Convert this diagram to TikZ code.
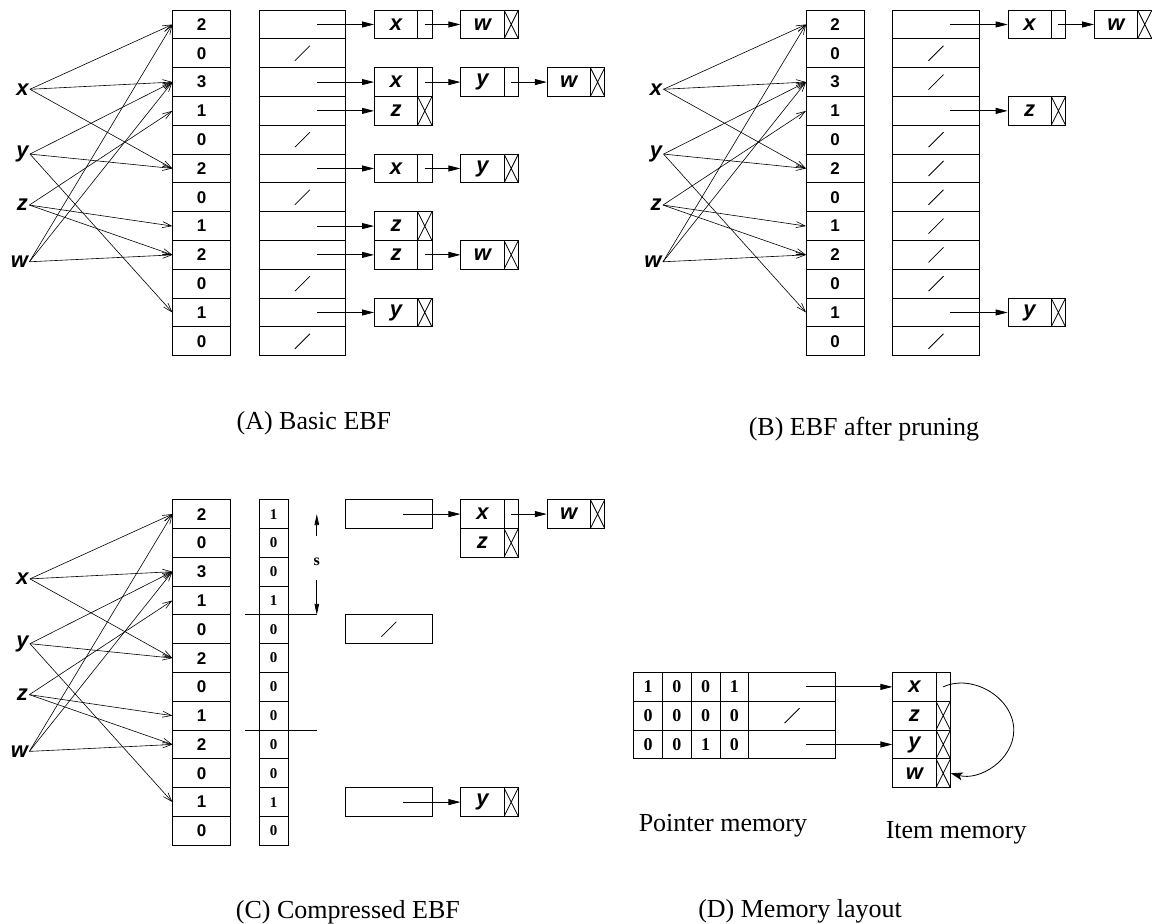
\documentclass[tikz,border=0pt]{standalone}
\usepackage{fontspec}
\setmainfont{Liberation Serif}
\setsansfont{Liberation Sans}
\usetikzlibrary{arrows.meta}
\tikzset{
  cnt/.style={rectangle, draw, minimum width=57.6pt, minimum height=28.8pt, inner sep=0pt, font=\fontsize{17}{20}\selectfont\sffamily\bfseries},
  ptr/.style={rectangle, draw, minimum width=86.4pt, minimum height=28.8pt, inner sep=0pt},
  nilptr/.style={ptr, path picture={\draw (path picture bounding box.center) +(-7.5pt,-7.5pt) -- +(7.5pt,7.5pt);}},
  bit/.style={rectangle, draw, minimum width=28.8pt, minimum height=28.8pt, inner sep=0pt, font=\fontsize{15}{18}\selectfont\rmfamily\bfseries},
  bigbit/.style={bit, font=\fontsize{18}{21}\selectfont\rmfamily\bfseries},
  item/.style={rectangle, draw, minimum width=43.2pt, minimum height=28.8pt, inner sep=0pt, font=\fontsize{22}{25}\selectfont\sffamily\bfseries\itshape},
  nxt/.style={rectangle, draw, minimum width=14.4pt, minimum height=28.8pt, inner sep=0pt},
  nilnxt/.style={nxt, path picture={\draw (path picture bounding box.south west) -- (path picture bounding box.north east) (path picture bounding box.north west) -- (path picture bounding box.south east);}},
  keylabel/.style={anchor=east, inner sep=1pt, font=\fontsize{22}{25}\selectfont\sffamily\bfseries\itshape},
  hashedge/.style={-{Straight Barb[length=9pt,width=6pt]}, line width=0.6pt},
  link/.style={-{Triangle[length=12pt,width=6pt]}},
  sarrow/.style={-{Triangle[length=11pt,width=4.5pt]}},
  caption/.style={anchor=base, font=\fontsize{26}{30}\selectfont}
}
\begin{document}
\begin{tikzpicture}[x=28.8pt, y=-28.8pt, line width=0.8pt]
  \useasboundingbox (0,-0.35) rectangle (40,31.7);

  % (A) basic EBF
  \node[keylabel] (aLx) at (1.04,2.75) {x};
  \node[keylabel] (aLy) at (1.04,5.0) {y};
  \node[keylabel] (aLz) at (1.02,6.77) {z};
  \node[keylabel] (aLw) at (1.02,8.74) {w};
  \node[cnt] (aC0) at (7,0.5) {2};
  \node[cnt] (aC1) at (7,1.5) {0};
  \node[cnt] (aC2) at (7,2.5) {3};
  \node[cnt] (aC3) at (7,3.5) {1};
  \node[cnt] (aC4) at (7,4.5) {0};
  \node[cnt] (aC5) at (7,5.5) {2};
  \node[cnt] (aC6) at (7,6.5) {0};
  \node[cnt] (aC7) at (7,7.5) {1};
  \node[cnt] (aC8) at (7,8.5) {2};
  \node[cnt] (aC9) at (7,9.5) {0};
  \node[cnt] (aC10) at (7,10.5) {1};
  \node[cnt] (aC11) at (7,11.5) {0};
  \node[ptr] (aP0) at (10.5,0.5) {};
  \node[nilptr] (aP1) at (10.5,1.5) {};
  \node[ptr] (aP2) at (10.5,2.5) {};
  \node[ptr] (aP3) at (10.5,3.5) {};
  \node[nilptr] (aP4) at (10.5,4.5) {};
  \node[ptr] (aP5) at (10.5,5.5) {};
  \node[nilptr] (aP6) at (10.5,6.5) {};
  \node[ptr] (aP7) at (10.5,7.5) {};
  \node[ptr] (aP8) at (10.5,8.5) {};
  \node[nilptr] (aP9) at (10.5,9.5) {};
  \node[ptr] (aP10) at (10.5,10.5) {};
  \node[nilptr] (aP11) at (10.5,11.5) {};
  \draw[hashedge] (aLx.east) -- (aC0.west);
  \draw[hashedge] (aLx.east) -- (aC2.west);
  \draw[hashedge] (aLx.east) -- (aC5.west);
  \draw[hashedge] (aLy.east) -- (aC2.west);
  \draw[hashedge] (aLy.east) -- (aC5.west);
  \draw[hashedge] (aLy.east) -- (aC10.west);
  \draw[hashedge] (aLz.east) -- (aC3.west);
  \draw[hashedge] (aLz.east) -- (aC7.west);
  \draw[hashedge] (aLz.east) -- (aC8.west);
  \draw[hashedge] (aLw.east) -- (aC0.west);
  \draw[hashedge] (aLw.east) -- (aC2.west);
  \draw[hashedge] (aLw.east) -- (aC8.west);
  \node[item] (a0x) at (13.75,0.5) {x};
  \node[nxt] (a0xn) at (14.75,0.5) {};
  \node[item] (a0w) at (16.75,0.5) {w};
  \node[nilnxt] (a0wn) at (17.75,0.5) {};
  \node[item] (a2x) at (13.75,2.5) {x};
  \node[nxt] (a2xn) at (14.75,2.5) {};
  \node[item] (a2y) at (16.75,2.5) {y};
  \node[nxt] (a2yn) at (17.75,2.5) {};
  \node[item] (a2w) at (19.75,2.5) {w};
  \node[nilnxt] (a2wn) at (20.75,2.5) {};
  \node[item] (a3z) at (13.75,3.5) {z};
  \node[nilnxt] (a3zn) at (14.75,3.5) {};
  \node[item] (a5x) at (13.75,5.5) {x};
  \node[nxt] (a5xn) at (14.75,5.5) {};
  \node[item] (a5y) at (16.75,5.5) {y};
  \node[nilnxt] (a5yn) at (17.75,5.5) {};
  \node[item] (a7z) at (13.75,7.5) {z};
  \node[nilnxt] (a7zn) at (14.75,7.5) {};
  \node[item] (a8z) at (13.75,8.5) {z};
  \node[nxt] (a8zn) at (14.75,8.5) {};
  \node[item] (a8w) at (16.75,8.5) {w};
  \node[nilnxt] (a8wn) at (17.75,8.5) {};
  \node[item] (a10y) at (13.75,10.5) {y};
  \node[nilnxt] (a10yn) at (14.75,10.5) {};
  \draw[link] ([xshift=14.4pt]aP0.center) -- (a0x.west);
  \draw[link] (a0xn.center) -- (a0w.west);
  \draw[link] ([xshift=14.4pt]aP2.center) -- (a2x.west);
  \draw[link] (a2xn.center) -- (a2y.west);
  \draw[link] (a2yn.center) -- (a2w.west);
  \draw[link] ([xshift=14.4pt]aP3.center) -- (a3z.west);
  \draw[link] ([xshift=14.4pt]aP5.center) -- (a5x.west);
  \draw[link] (a5xn.center) -- (a5y.west);
  \draw[link] ([xshift=14.4pt]aP7.center) -- (a7z.west);
  \draw[link] ([xshift=14.4pt]aP8.center) -- (a8z.west);
  \draw[link] (a8zn.center) -- (a8w.west);
  \draw[link] ([xshift=14.4pt]aP10.center) -- (a10y.west);
  \node[caption] (capA) at (10.9,14.58) {(A) Basic EBF};

  % (B) EBF after pruning
  \node[keylabel] (bLx) at (23.04,2.75) {x};
  \node[keylabel] (bLy) at (23.04,5.0) {y};
  \node[keylabel] (bLz) at (23.02,6.77) {z};
  \node[keylabel] (bLw) at (23.02,8.74) {w};
  \node[cnt] (bC0) at (29,0.5) {2};
  \node[cnt] (bC1) at (29,1.5) {0};
  \node[cnt] (bC2) at (29,2.5) {3};
  \node[cnt] (bC3) at (29,3.5) {1};
  \node[cnt] (bC4) at (29,4.5) {0};
  \node[cnt] (bC5) at (29,5.5) {2};
  \node[cnt] (bC6) at (29,6.5) {0};
  \node[cnt] (bC7) at (29,7.5) {1};
  \node[cnt] (bC8) at (29,8.5) {2};
  \node[cnt] (bC9) at (29,9.5) {0};
  \node[cnt] (bC10) at (29,10.5) {1};
  \node[cnt] (bC11) at (29,11.5) {0};
  \node[ptr] (bP0) at (32.5,0.5) {};
  \node[nilptr] (bP1) at (32.5,1.5) {};
  \node[nilptr] (bP2) at (32.5,2.5) {};
  \node[ptr] (bP3) at (32.5,3.5) {};
  \node[nilptr] (bP4) at (32.5,4.5) {};
  \node[nilptr] (bP5) at (32.5,5.5) {};
  \node[nilptr] (bP6) at (32.5,6.5) {};
  \node[nilptr] (bP7) at (32.5,7.5) {};
  \node[nilptr] (bP8) at (32.5,8.5) {};
  \node[nilptr] (bP9) at (32.5,9.5) {};
  \node[ptr] (bP10) at (32.5,10.5) {};
  \node[nilptr] (bP11) at (32.5,11.5) {};
  \draw[hashedge] (bLx.east) -- (bC0.west);
  \draw[hashedge] (bLx.east) -- (bC2.west);
  \draw[hashedge] (bLx.east) -- (bC5.west);
  \draw[hashedge] (bLy.east) -- (bC2.west);
  \draw[hashedge] (bLy.east) -- (bC5.west);
  \draw[hashedge] (bLy.east) -- (bC10.west);
  \draw[hashedge] (bLz.east) -- (bC3.west);
  \draw[hashedge] (bLz.east) -- (bC7.west);
  \draw[hashedge] (bLz.east) -- (bC8.west);
  \draw[hashedge] (bLw.east) -- (bC0.west);
  \draw[hashedge] (bLw.east) -- (bC2.west);
  \draw[hashedge] (bLw.east) -- (bC8.west);
  \node[item] (b0x) at (35.75,0.5) {x};
  \node[nxt] (b0xn) at (36.75,0.5) {};
  \node[item] (b0w) at (38.75,0.5) {w};
  \node[nilnxt] (b0wn) at (39.75,0.5) {};
  \node[item] (b3z) at (35.75,3.5) {z};
  \node[nilnxt] (b3zn) at (36.75,3.5) {};
  \node[item] (b10y) at (35.75,10.5) {y};
  \node[nilnxt] (b10yn) at (36.75,10.5) {};
  \draw[link] ([xshift=14.4pt]bP0.center) -- (b0x.west);
  \draw[link] (b0xn.center) -- (b0w.west);
  \draw[link] ([xshift=14.4pt]bP3.center) -- (b3z.west);
  \draw[link] ([xshift=14.4pt]bP10.center) -- (b10y.west);
  \node[caption] (capB) at (30.0,14.76) {(B) EBF after pruning};

  % (C) compressed EBF
  \node[keylabel] (cLx) at (1.04,19.75) {x};
  \node[keylabel] (cLy) at (1.04,22.0) {y};
  \node[keylabel] (cLz) at (1.02,23.77) {z};
  \node[keylabel] (cLw) at (1.02,25.74) {w};
  \node[cnt] (cC0) at (7,17.5) {2};
  \node[cnt] (cC1) at (7,18.5) {0};
  \node[cnt] (cC2) at (7,19.5) {3};
  \node[cnt] (cC3) at (7,20.5) {1};
  \node[cnt] (cC4) at (7,21.5) {0};
  \node[cnt] (cC5) at (7,22.5) {2};
  \node[cnt] (cC6) at (7,23.5) {0};
  \node[cnt] (cC7) at (7,24.5) {1};
  \node[cnt] (cC8) at (7,25.5) {2};
  \node[cnt] (cC9) at (7,26.5) {0};
  \node[cnt] (cC10) at (7,27.5) {1};
  \node[cnt] (cC11) at (7,28.5) {0};
  \node[bit] (cB0) at (9.5,17.5) {1};
  \node[bit] (cB1) at (9.5,18.5) {0};
  \node[bit] (cB2) at (9.5,19.5) {0};
  \node[bit] (cB3) at (9.5,20.5) {1};
  \node[bit] (cB4) at (9.5,21.5) {0};
  \node[bit] (cB5) at (9.5,22.5) {0};
  \node[bit] (cB6) at (9.5,23.5) {0};
  \node[bit] (cB7) at (9.5,24.5) {0};
  \node[bit] (cB8) at (9.5,25.5) {0};
  \node[bit] (cB9) at (9.5,26.5) {0};
  \node[bit] (cB10) at (9.5,27.5) {1};
  \node[bit] (cB11) at (9.5,28.5) {0};
  \draw[hashedge] (cLx.east) -- (cC0.west);
  \draw[hashedge] (cLx.east) -- (cC2.west);
  \draw[hashedge] (cLx.east) -- (cC5.west);
  \draw[hashedge] (cLy.east) -- (cC2.west);
  \draw[hashedge] (cLy.east) -- (cC5.west);
  \draw[hashedge] (cLy.east) -- (cC10.west);
  \draw[hashedge] (cLz.east) -- (cC3.west);
  \draw[hashedge] (cLz.east) -- (cC7.west);
  \draw[hashedge] (cLz.east) -- (cC8.west);
  \draw[hashedge] (cLw.east) -- (cC0.west);
  \draw[hashedge] (cLw.east) -- (cC2.west);
  \draw[hashedge] (cLw.east) -- (cC8.west);
  % segment marks and size s
  \coordinate (cM0a) at (8.5,21);
  \coordinate (cM0b) at (11,21);
  \coordinate (cM1a) at (8.5,25);
  \coordinate (cM1b) at (11,25);
  \draw (cM0a) -- (cM0b);
  \draw (cM1a) -- (cM1b);
  \node[inner sep=0pt, font=\fontsize{16}{19}\selectfont\rmfamily\bfseries] (cS) at (11,19.16) {s};
  \coordinate (cSt) at (11,17.5);
  \draw[sarrow, shorten <=22pt] (cS.north) -- (cSt);
  \draw[sarrow, shorten <=14pt] (cS.south) -- (cM0b);
  \node[ptr] (cQ0) at (13.5,17.5) {};
  \node[nilptr] (cQ1) at (13.5,21.5) {};
  \node[ptr] (cQ2) at (13.5,27.5) {};
  \node[item] (c0x) at (16.75,17.5) {x};
  \node[nxt] (c0xn) at (17.75,17.5) {};
  \node[item] (c0w) at (19.75,17.5) {w};
  \node[nilnxt] (c0wn) at (20.75,17.5) {};
  \node[item] (c0z) at (16.75,18.5) {z};
  \node[nilnxt] (c0zn) at (17.75,18.5) {};
  \node[item] (c2y) at (16.75,27.5) {y};
  \node[nilnxt] (c2yn) at (17.75,27.5) {};
  \draw[link] ([xshift=14.4pt]cQ0.center) -- (c0x.west);
  \draw[link] (c0xn.center) -- (c0w.west);
  \draw[link] ([xshift=14.4pt]cQ2.center) -- (c2y.west);
  \node[caption] (capC) at (12.08,31.53) {(C) Compressed EBF};

  % (D) memory layout
  \node[bigbit] (dB00) at (22.5,23.5) {1};
  \node[bigbit] (dB01) at (23.5,23.5) {0};
  \node[bigbit] (dB02) at (24.5,23.5) {0};
  \node[bigbit] (dB03) at (25.5,23.5) {1};
  \node[bigbit] (dB10) at (22.5,24.5) {0};
  \node[bigbit] (dB11) at (23.5,24.5) {0};
  \node[bigbit] (dB12) at (24.5,24.5) {0};
  \node[bigbit] (dB13) at (25.5,24.5) {0};
  \node[bigbit] (dB20) at (22.5,25.5) {0};
  \node[bigbit] (dB21) at (23.5,25.5) {0};
  \node[bigbit] (dB22) at (24.5,25.5) {1};
  \node[bigbit] (dB23) at (25.5,25.5) {0};
  \node[ptr] (dP0) at (27.5,23.5) {};
  \node[nilptr] (dP1) at (27.5,24.5) {};
  \node[ptr] (dP2) at (27.5,25.5) {};
  \node[item] (dx) at (31.75,23.5) {x};
  \node[nxt] (dxn) at (32.75,23.5) {};
  \node[item] (dz) at (31.75,24.5) {z};
  \node[nilnxt] (dzn) at (32.75,24.5) {};
  \node[item] (dy) at (31.75,25.5) {y};
  \node[nilnxt] (dyn) at (32.75,25.5) {};
  \node[item] (dw) at (31.75,26.5) {w};
  \node[nilnxt] (dwn) at (32.75,26.5) {};
  \draw[link] ([xshift=14.4pt]dP0.center) -- (dx.west);
  \draw[link] ([xshift=14.4pt]dP2.center) -- (dy.west);
  \coordinate (dTurn) at (35.2,25.0);
  \draw[-{Stealth[length=12pt,width=8pt,inset=3pt]}] (dxn.center) to[out=25,in=90] (dTurn) to[out=-90,in=-15] (dwn.east);
  \node[caption] (capDp) at (25.1,28.53) {Pointer memory};
  \node[caption] (capDi) at (33.2,28.78) {Item memory};
  \node[caption] (capD) at (27.78,31.52) {(D) Memory layout};
\end{tikzpicture}
\end{document}
